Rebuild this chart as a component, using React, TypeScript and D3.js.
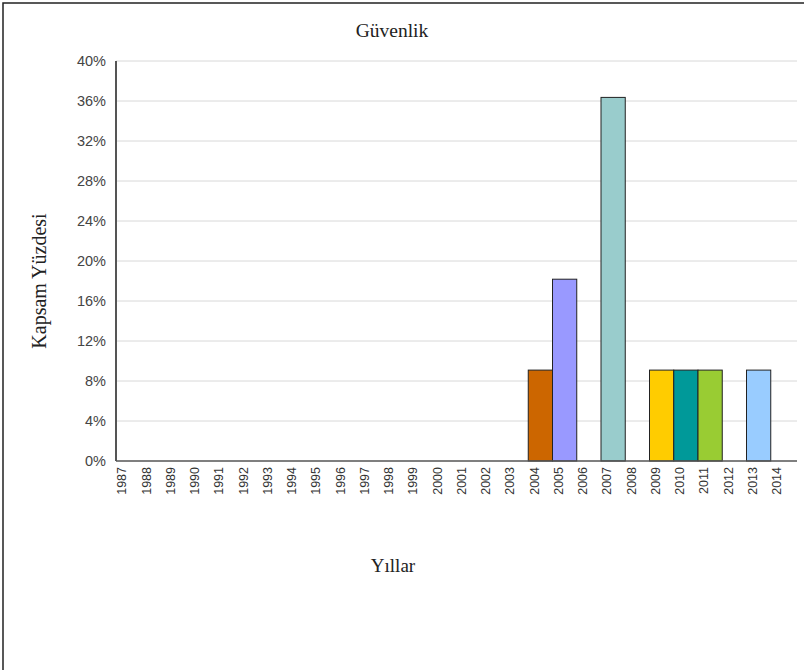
import React from "react";
import * as d3 from "d3";

const years: string[] = [
  "1987","1988","1989","1990","1991","1992","1993","1994","1995","1996",
  "1997","1998","1999","2000","2001","2002","2003","2004","2005","2006",
  "2007","2008","2009","2010","2011","2012","2013","2014",
];
const values: number[] = [
  0,0,0,0,0,0,0,0,0,0,
  0,0,0,0,0,0,0,9.09,18.18,0,
  36.36,0,9.09,9.09,9.09,0,9.09,0,
];
const barColors: string[] = [
  "#99cccc","#99cccc","#99cccc","#99cccc","#99cccc","#99cccc","#99cccc","#99cccc","#99cccc","#99cccc",
  "#99cccc","#99cccc","#99cccc","#99cccc","#99cccc","#99cccc","#99cccc","#cc6600","#9999ff","#ffffff",
  "#99cccc","#ffffff","#ffcc00","#009999","#99cc33","#ffffff","#99ccff","#ffffff",
];
const yTicks: number[] = [0, 4, 8, 12, 16, 20, 24, 28, 32, 36, 40];
const title = "Güvenlik";
const xTitle = "Yıllar";
const yTitle = "Kapsam Yüzdesi";

export default function App() {
  const W = 804, H = 670;
  const left = 116, right = 795, top = 61, bottom = 461;
  const x = d3.scaleBand<string>().domain(years).range([left, right]).padding(0);
  const y = d3.scaleLinear().domain([0, 40]).range([bottom, top]);
  const serif = "'Liberation Serif', 'Times New Roman', serif";
  const sans = "'Liberation Sans', Arial, sans-serif";
  return (
    <svg width={W} height={H} style={{ position: "absolute", left: 0, top: 0, background: "#fff" }}>
      <rect x={0} y={0} width={W} height={H} fill="#fff" />
      <path d={`M3,${H} L3,3 L${W},3`} fill="none" stroke="#222" strokeWidth={1.5} />
      <text x={392} y={37} textAnchor="middle" fontFamily={serif} fontSize={19.5} fill="#222">{title}</text>
      {yTicks.map((t) => (
        <g key={t}>
          {t > 0 && (
            <line x1={left} x2={right + 2} y1={y(t)} y2={y(t)} stroke="#d8d8d8" strokeWidth={1} />
          )}
          <text x={106} y={y(t)} dy="0.35em" textAnchor="end" fontFamily={sans} fontSize={14.5} fill="#444">
            {t}%
          </text>
        </g>
      ))}
      {years.map((yr, i) =>
        values[i] > 0 ? (
          <rect
            key={yr}
            x={x(yr)!}
            y={y(values[i])}
            width={x.bandwidth()}
            height={y(0) - y(values[i])}
            fill={barColors[i]}
            stroke="#222"
            strokeWidth={1}
          />
        ) : null
      )}
      <line x1={left} x2={left} y1={top} y2={bottom} stroke="#555" strokeWidth={2} />
      <line x1={left} x2={right + 2} y1={bottom} y2={bottom} stroke="#555" strokeWidth={1.5} />
      {years.map((yr) => {
        const cx = x(yr)! + x.bandwidth() * 0.25;
        return (
          <text
            key={yr}
            transform={`translate(${cx},${bottom + 6}) rotate(-90)`}
            textAnchor="end"
            dy="0.35em"
            fontFamily={sans}
            fontSize={12.5}
            fill="#333"
          >
            {yr}
          </text>
        );
      })}
      <text x={393} y={572} textAnchor="middle" fontFamily={serif} fontSize={19} fill="#222">{xTitle}</text>
      <text
        transform={`translate(46,281) rotate(-90)`}
        textAnchor="middle"
        fontFamily={serif}
        fontSize={20}
        fill="#222"
      >
        {yTitle}
      </text>
    </svg>
  );
}
